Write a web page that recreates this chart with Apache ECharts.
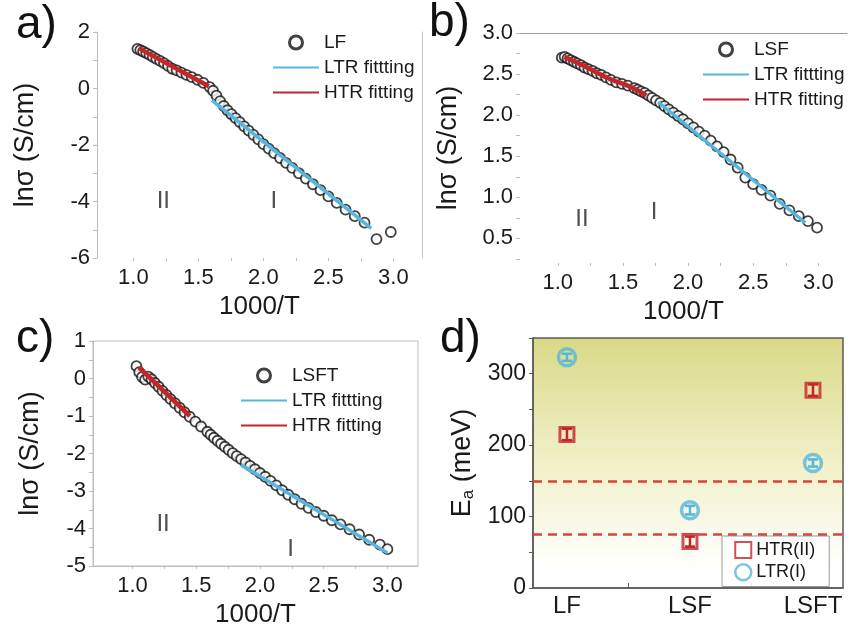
<!DOCTYPE html>
<html>
<head>
<meta charset="utf-8">
<script src="https://cdn.jsdelivr.net/npm/echarts@6/dist/echarts.min.js"></script>
<style>
  html, body { margin: 0; padding: 0; background: #fff; }
  #chart { width: 850px; height: 632px; }
</style>
</head>
<body>
<div id="chart"></div>
<script>
// panel a) LF
var xLF = [1.031, 1.053, 1.075, 1.099, 1.124, 1.149, 1.176, 1.205, 1.235, 1.266, 1.299, 1.333, 1.370, 1.408, 1.449, 1.493, 1.538, 1.587, 1.613, 1.639, 1.667, 1.695, 1.724, 1.754, 1.786, 1.818, 1.852, 1.887, 1.923, 1.961, 2.0, 2.041, 2.083, 2.128, 2.174, 2.222, 2.273, 2.326, 2.381, 2.439, 2.5, 2.564, 2.632, 2.703, 2.778, 2.87, 2.98];
var yLF = [1.40, 1.36, 1.31, 1.25, 1.19, 1.12, 1.05, 0.98, 0.90, 0.80, 0.70, 0.64, 0.56, 0.48, 0.40, 0.31, 0.20, 0.05, -0.08, -0.25, -0.45, -0.62, -0.77, -0.91, -1.05, -1.19, -1.34, -1.49, -1.64, -1.80, -1.97, -2.13, -2.29, -2.46, -2.63, -2.81, -3.00, -3.19, -3.39, -3.60, -3.82, -4.05, -4.29, -4.52, -4.75, -5.33, -5.08];
var htrLF = [[1.04, 1.43], [1.58, 0.08]];
var ltrLF = [[1.605, -0.42], [2.83, -4.95]];
var regionsLF = [[1.23, -4.0, 'II'], [2.08, -4.0, 'I']];

// panel b) LSF
var xLSF = [1.031, 1.053, 1.075, 1.099, 1.124, 1.149, 1.176, 1.205, 1.235, 1.266, 1.299, 1.333, 1.370, 1.408, 1.449, 1.493, 1.538, 1.587, 1.613, 1.639, 1.667, 1.695, 1.724, 1.754, 1.786, 1.818, 1.852, 1.887, 1.923, 1.961, 2.0, 2.041, 2.083, 2.128, 2.174, 2.222, 2.273, 2.326, 2.381, 2.439, 2.5, 2.564, 2.632, 2.703, 2.778, 2.85, 2.92, 2.99];
var yLSF = [2.70, 2.71, 2.69, 2.67, 2.65, 2.63, 2.61, 2.58, 2.56, 2.54, 2.51, 2.49, 2.46, 2.43, 2.40, 2.38, 2.36, 2.33, 2.31, 2.29, 2.27, 2.24, 2.21, 2.18, 2.15, 2.11, 2.07, 2.03, 1.99, 1.95, 1.90, 1.85, 1.80, 1.75, 1.69, 1.62, 1.55, 1.46, 1.36, 1.24, 1.16, 1.09, 1.02, 0.92, 0.84, 0.77, 0.71, 0.63];
var htrLSF = [[1.05, 2.71], [1.2, 2.60], [1.4, 2.44], [1.55, 2.35], [1.68, 2.24]];
var ltrLSF = [[1.77, 2.16], [2.9, 0.69]];
var regionsLSF = [[1.185, 0.73, 'II'], [1.74, 0.82, 'I']];

// panel c) LSFT
var xLSFT = [1.031, 1.053, 1.075, 1.099, 1.124, 1.149, 1.176, 1.205, 1.235, 1.266, 1.299, 1.333, 1.370, 1.408, 1.449, 1.493, 1.538, 1.587, 1.613, 1.639, 1.667, 1.695, 1.724, 1.754, 1.786, 1.818, 1.852, 1.887, 1.923, 1.961, 2.0, 2.041, 2.083, 2.128, 2.174, 2.222, 2.273, 2.326, 2.381, 2.439, 2.5, 2.564, 2.632, 2.703, 2.778, 2.857, 2.941, 3.0];
var yLSFT = [0.33, 0.17, 0.04, -0.03, 0.05, -0.02, -0.12, -0.22, -0.33, -0.44, -0.55, -0.66, -0.78, -0.90, -1.02, -1.15, -1.28, -1.42, -1.50, -1.58, -1.66, -1.74, -1.82, -1.90, -1.99, -2.07, -2.15, -2.24, -2.33, -2.42, -2.52, -2.62, -2.73, -2.85, -2.98, -3.10, -3.22, -3.34, -3.45, -3.56, -3.66, -3.78, -3.89, -4.02, -4.16, -4.30, -4.43, -4.55];
var htrLSFT = [[1.05, 0.30], [1.45, -1.0]];
var ltrLSFT = [[1.85, -2.3], [3.0, -4.65]];
var regionsLSFT = [[1.24, -3.88, 'II'], [2.24, -4.55, 'I']];

// panel d) activation energies
var samples = ['LF', 'LSF', 'LSFT'];
var eaHTR = [215, 65, 277];
var eaHTRerr = [8, 7, 8];
var eaLTR = [323, 109, 175];
var eaLTRerr = [5, 6, 5];
var dashLevels = [150, 75];

var xTicks = [1, 1.25, 1.5, 1.75, 2, 2.25, 2.5, 2.75, 3];
var xLabels = [1, 1.5, 2, 2.5, 3];

var red = '#c4252b';
var blue = '#56b6de';
var font = 'Liberation Sans';
var txt = '#1a1a1a';
var clear = 'rgba(255,255,255,0)';

function zip(xs, ys) {
  var out = [];
  for (var i = 0; i < xs.length; i++) out.push([xs[i], ys[i]]);
  return out;
}

function errData(vals, errs) {
  return vals.map(function (v, i) { return [i, v - errs[i], v + errs[i]]; });
}

function renderErr(params, api) {
  var x = api.value(0);
  var lo = api.coord([x, api.value(1)]);
  var hi = api.coord([x, api.value(2)]);
  var c = api.visual('color');
  var w = 5;
  var st = { stroke: c, lineWidth: 2.5 };
  return {
    type: 'group',
    children: [
      { type: 'line', shape: { x1: lo[0], y1: lo[1], x2: hi[0], y2: hi[1] }, style: st },
      { type: 'line', shape: { x1: lo[0] - w, y1: lo[1], x2: lo[0] + w, y2: lo[1] }, style: st },
      { type: 'line', shape: { x1: hi[0] - w, y1: hi[1], x2: hi[0] + w, y2: hi[1] }, style: st }
    ]
  };
}

function xAxisFor(idx, min, max, showLine) {
  return {
    type: 'value', gridIndex: idx, min: min, max: max,
    name: '1000/T', nameLocation: 'middle', nameGap: 36,
    nameTextStyle: { fontFamily: font, fontSize: 26, color: txt },
    axisLine: { show: showLine, onZero: false, lineStyle: { color: '#bdbdbd', width: 1 } },
    axisTick: { show: true, customValues: xTicks, length: 3, lineStyle: { color: '#bdbdbd' } },
    axisLabel: {
      customValues: xLabels, margin: 9, fontFamily: font, fontSize: 22, color: txt,
      formatter: function (v) { return v.toFixed(1); }
    },
    splitLine: { show: false }
  };
}

function yAxisFor(idx, min, max, ticks, labels, digits, showLine, gap) {
  return {
    type: 'value', gridIndex: idx, min: min, max: max,
    name: 'lnσ (S/cm)', nameLocation: 'middle', nameGap: gap,
    nameTextStyle: { fontFamily: font, fontSize: 27, color: txt },
    axisLine: { show: showLine, onZero: false, lineStyle: { color: '#bdbdbd', width: 1 } },
    axisTick: { show: true, customValues: ticks, length: 4, lineStyle: { color: '#bdbdbd' } },
    axisLabel: {
      customValues: labels, margin: 7, fontFamily: font, fontSize: 22, color: txt,
      formatter: function (v) { return v.toFixed(digits); }
    },
    splitLine: { show: false }
  };
}

function dataSeries(name, idx, xs, ys) {
  return {
    name: name, type: 'scatter', xAxisIndex: idx, yAxisIndex: idx,
    data: zip(xs, ys), symbol: 'circle', symbolSize: 10, z: 2,
    itemStyle: { color: '#fff', borderColor: '#111', borderWidth: 1.8 }
  };
}

function fitSeries(name, idx, pts, color, width) {
  return {
    name: name, type: 'line', xAxisIndex: idx, yAxisIndex: idx,
    data: pts, showSymbol: false, symbol: 'none', smooth: true, z: 3,
    lineStyle: { color: color, width: width }, itemStyle: { color: color }
  };
}

function regionSeries(idx, pts) {
  return {
    name: 'region' + idx, type: 'scatter', xAxisIndex: idx, yAxisIndex: idx,
    data: pts, symbolSize: 1, itemStyle: { color: clear }, silent: true,
    label: {
      show: true, position: 'inside', fontFamily: font, fontSize: 24, color: '#222',
      formatter: function (p) { return p.value[2]; }
    }
  };
}

function fitLegend(left, top, sample) {
  var noMark = { color: clear, borderColor: clear, borderWidth: 0, opacity: 0 };
  return {
    left: left, top: top, orient: 'vertical', padding: 0,
    itemWidth: 46, itemHeight: 13, itemGap: 4,
    textStyle: { fontFamily: font, fontSize: 19, color: txt, lineHeight: 21 },
    data: [
      { name: sample, icon: 'circle', itemStyle: { color: '#fff', borderColor: '#111', borderWidth: 3 } },
      { name: 'LTR fittting', itemStyle: noMark },
      { name: 'HTR fitting', itemStyle: noMark }
    ]
  };
}

var chart = echarts.init(document.getElementById('chart'), null, { renderer: 'canvas' });

var panelTitle = function (text, left, top) {
  return { text: text, left: left, top: top, padding: 0,
    textStyle: { fontFamily: font, fontSize: 46, fontWeight: 'normal', color: '#111' } };
};

var option = {
  backgroundColor: '#fff',
  animation: false,
  title: [
    panelTitle('a)', 16, 2),
    panelTitle('b)', 429, 0),
    panelTitle('c)', 16, 316),
    panelTitle('d)', 440, 316)
  ],
  legend: [
    fitLegend(272, 32, 'LF'),
    fitLegend(702, 39, 'LSF'),
    fitLegend(240, 365, 'LSFT'),
    {
      left: 722, top: 536, orient: 'vertical',
      padding: [5, 14, 5, 12], itemGap: 4, itemWidth: 16, itemHeight: 16,
      backgroundColor: 'rgba(255,255,255,0.85)', borderColor: '#9a9a9a', borderWidth: 1, borderRadius: 0,
      textStyle: { fontFamily: font, fontSize: 18, color: txt, lineHeight: 18 },
      data: [
        { name: 'HTR(II)', icon: 'rect', itemStyle: { color: clear, borderColor: red, borderWidth: 2 } },
        { name: 'LTR(I)', icon: 'circle', itemStyle: { color: clear, borderColor: blue, borderWidth: 2.5 } }
      ]
    }
  ],
  grid: [
    { left: 97, top: 32, width: 325, height: 226 },
    { left: 520, top: 33, width: 327, height: 230 },
    { left: 93, top: 341, width: 325, height: 225, show: true, borderColor: '#bdbdbd', borderWidth: 1 },
    {
      left: 533, top: 338, width: 310, height: 250, show: true, borderColor: '#5a5a5a', borderWidth: 1.5,
      backgroundColor: {
        type: 'linear', x: 0, y: 0, x2: 0, y2: 1,
        colorStops: [
          { offset: 0, color: '#d9d987' },
          { offset: 0.5, color: '#f1f0c8' },
          { offset: 0.92, color: '#ffffff' },
          { offset: 1, color: '#ffffff' }
        ]
      }
    }
  ],
  xAxis: [
    xAxisFor(0, 0.72, 3.22, false),
    xAxisFor(1, 0.71, 3.22, false),
    xAxisFor(2, 0.69, 3.24, true),
    {
      type: 'value', gridIndex: 3, min: -0.276, max: 2.244,
      axisLine: { show: true, onZero: false, lineStyle: { color: '#5a5a5a', width: 1.5 } },
      axisTick: { show: true, inside: true, customValues: [0.5, 1.5], length: 5, lineStyle: { color: '#5a5a5a' } },
      axisLabel: {
        customValues: [0, 1, 2], margin: 6, fontFamily: font, fontSize: 24, color: txt,
        formatter: function (v) { return samples[Math.round(v)]; }
      },
      splitLine: { show: false }
    },
    // top frame line of panel b
    {
      type: 'value', gridIndex: 1, position: 'top', min: 0.71, max: 3.22,
      axisLine: { show: true, onZero: false, lineStyle: { color: '#9a9a9a', width: 1 } },
      axisTick: { show: false }, axisLabel: { show: false }, splitLine: { show: false }
    }
  ],
  yAxis: [
    yAxisFor(0, -6, 2, [-6, -5, -4, -3, -2, -1, 0, 1, 2], [-6, -4, -2, 0, 2], 0, true, 58),
    yAxisFor(1, 0.2, 3.0, [0.25, 0.5, 0.75, 1, 1.25, 1.5, 1.75, 2, 2.25, 2.5, 2.75, 3], [0.5, 1, 1.5, 2, 2.5, 3], 1, false, 58),
    yAxisFor(2, -5, 1, [-5, -4.5, -4, -3.5, -3, -2.5, -2, -1.5, -1, -0.5, 0, 0.5, 1], [-5, -4, -3, -2, -1, 0, 1], 0, true, 49),
    {
      type: 'value', gridIndex: 3, min: 0, max: 350,
      name: 'E{sub|a} (meV)', nameLocation: 'middle', nameGap: 56,
      nameTextStyle: {
        fontFamily: font, fontSize: 27, color: txt,
        rich: { sub: { fontFamily: font, fontSize: 17, color: txt, padding: [12, 0, 0, 0] } }
      },
      axisLine: { show: true, onZero: false, lineStyle: { color: '#5a5a5a', width: 1.5 } },
      axisTick: { show: true, customValues: [0, 50, 100, 150, 200, 250, 300, 350], length: 4, lineStyle: { color: '#5a5a5a' } },
      axisLabel: { customValues: [0, 100, 200, 300], margin: 7, fontFamily: font, fontSize: 23, color: txt },
      splitLine: { show: false }
    },
    // right frame line of panel a
    {
      type: 'value', gridIndex: 0, position: 'right', min: -6, max: 2,
      axisLine: { show: true, onZero: false, lineStyle: { color: '#c4c4c4', width: 1 } },
      axisTick: { show: false }, axisLabel: { show: false }, splitLine: { show: false }
    }
  ],
  series: [
    dataSeries('LF', 0, xLF, yLF),
    fitSeries('LTR fittting', 0, ltrLF, blue, 3.5),
    fitSeries('HTR fitting', 0, htrLF, red, 4.5),
    regionSeries(0, regionsLF),

    dataSeries('LSF', 1, xLSF, yLSF),
    fitSeries('LTR fittting', 1, ltrLSF, blue, 3.5),
    fitSeries('HTR fitting', 1, htrLSF, red, 4.5),
    regionSeries(1, regionsLSF),

    dataSeries('LSFT', 2, xLSFT, yLSFT),
    fitSeries('LTR fittting', 2, ltrLSFT, blue, 3.5),
    fitSeries('HTR fitting', 2, htrLSFT, red, 4.5),
    regionSeries(2, regionsLSFT),

    {
      name: 'HTR(II)', type: 'scatter', xAxisIndex: 3, yAxisIndex: 3,
      data: eaHTR.map(function (v, i) { return [i, v]; }),
      symbol: 'rect', symbolSize: 14, z: 3,
      itemStyle: { color: clear, borderColor: red, borderWidth: 3 },
      markLine: {
        silent: true, symbol: 'none', label: { show: false },
        lineStyle: { color: '#d8433d', type: [9, 6], width: 2.5 },
        data: dashLevels.map(function (v) { return { yAxis: v }; })
      }
    },
    {
      name: 'HTR err', type: 'custom', xAxisIndex: 3, yAxisIndex: 3,
      data: errData(eaHTR, eaHTRerr), renderItem: renderErr, z: 4,
      itemStyle: { color: red }, encode: { x: 0, y: [1, 2] }
    },
    {
      name: 'LTR(I)', type: 'scatter', xAxisIndex: 3, yAxisIndex: 3,
      data: eaLTR.map(function (v, i) { return [i, v]; }),
      symbol: 'circle', symbolSize: 17, z: 3,
      itemStyle: { color: clear, borderColor: blue, borderWidth: 3.5 }
    },
    {
      name: 'LTR err', type: 'custom', xAxisIndex: 3, yAxisIndex: 3,
      data: errData(eaLTR, eaLTRerr), renderItem: renderErr, z: 4,
      itemStyle: { color: blue }, encode: { x: 0, y: [1, 2] }
    }
  ]
};

chart.setOption(option);
</script>
</body>
</html>
